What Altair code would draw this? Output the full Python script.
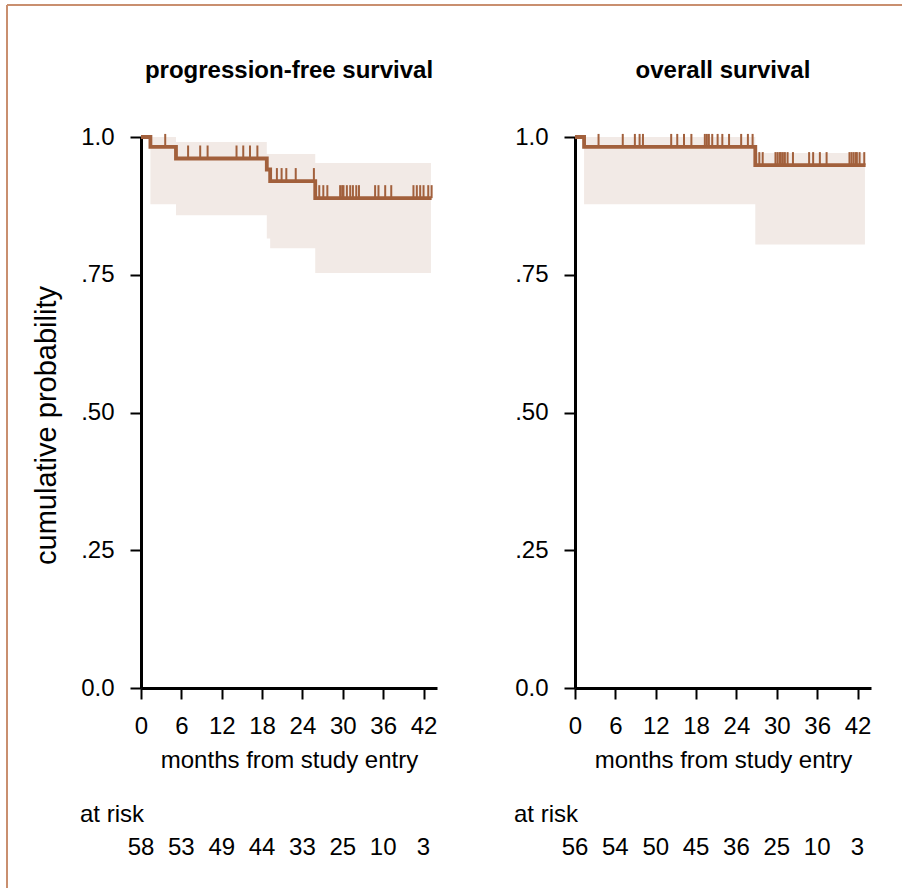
import altair as alt
import numpy as np
import pandas as pd

# ---- axis ticks -----------------------------------------------------------
month_ticks = [0, 6, 12, 18, 24, 30, 36, 42]
y_ticks = [0.0, 0.25, 0.5, 0.75, 1.0]
y_tick_labels = ["0.0", ".25", ".50", ".75", "1.0"]

# ---- progression-free survival -------------------------------------------
pfs_step_t = [0.0, 1.4, 5.2, 18.7, 19.2, 25.9, 43.2]
pfs_step_s = [1.0, 0.982, 0.961, 0.941, 0.920, 0.889, 0.889]
pfs_ci_t = [1.4, 5.2, 18.7, 19.2, 25.9, 43.1]
pfs_ci_lo = [0.878, 0.858, 0.816, 0.798, 0.753, 0.753]
pfs_ci_hi = [1.0, 0.991, 0.969, 0.969, 0.953, 0.953]
pfs_censor_t = [3.6, 7.0, 8.8, 9.9, 14.2, 15.2, 16.2, 17.3,
                20.2, 20.9, 21.6, 23.0, 25.7,
                26.5, 27.1, 27.7, 29.6, 29.9, 30.1, 30.6, 31.1, 31.5, 32.0, 32.4,
                34.8, 35.3, 36.3, 37.2, 40.5, 41.0, 41.5, 42.0, 42.7, 43.2]
pfs_at_risk = [58, 53, 49, 44, 33, 25, 10, 3]

# ---- overall survival ------------------------------------------------------
os_step_t = [0.0, 1.35, 26.8, 43.2]
os_step_s = [1.0, 0.982, 0.949, 0.949]
os_ci_t = [1.35, 26.8, 43.1]
os_ci_lo = [0.878, 0.805, 0.805]
os_ci_hi = [1.0, 0.971, 0.971]
os_censor_t = [3.5, 7.1, 8.9, 9.6, 10.1, 14.3, 15.2, 16.2, 17.3,
               19.3, 19.6, 19.9, 20.4, 21.2, 21.9, 22.9, 24.7, 25.7, 26.4,
               27.4, 27.9, 29.8, 30.1, 30.4, 30.6, 30.9, 31.2, 31.6, 32.4,
               34.8, 35.4, 36.4, 37.4, 40.8, 41.1, 41.4, 41.7, 41.9, 42.3, 43.0]
os_at_risk = [56, 54, 50, 45, 36, 25, 10, 3]

# ---- styling ---------------------------------------------------------------
SANS = "Liberation Sans, Arial, sans-serif"
CURVE = "#A2603C"
BAND = "#F2EAE6"
FRAME = "#C98F6F"
W, H = 296, 551
FS = 24


def censor_frame(step_t, step_s, censor_t):
    idx = np.searchsorted(step_t, censor_t, side="right") - 1
    return pd.DataFrame({"t": censor_t, "s": np.asarray(step_s)[idx]})


def x_axis():
    return alt.Axis(values=month_ticks, title="months from study entry",
                    grid=False, domainColor="black", domainWidth=3,
                    tickColor="black", tickWidth=2, tickSize=11,
                    labelFont=SANS, labelFontSize=FS, labelColor="black",
                    labelPadding=15, labelFlush=False,
                    titleFont=SANS, titleFontSize=FS, titleFontWeight="normal",
                    titleColor="black", titlePadding=10)


def y_axis(with_title):
    expr = " : ".join(
        f"datum.value == {v} ? '{lab}'" for v, lab in zip(y_ticks, y_tick_labels)
    ) + " : ''"
    kw = dict(values=y_ticks, labelExpr=expr, grid=False,
              domainColor="black", domainWidth=3, tickColor="black",
              tickWidth=2, tickSize=11, labelFont=SANS, labelFontSize=FS,
              labelColor="black", labelPadding=16, labelFlush=False)
    if with_title:
        kw.update(title="cumulative probability", titleFont=SANS,
                  titleFontSize=29, titleFontWeight="normal",
                  titleColor="black", titlePadding=19, titleY=288)
    else:
        kw.update(title="")
    return alt.Axis(**kw)


def panel(title, step_t, step_s, ci_t, ci_lo, ci_hi, censor_t, at_risk,
          with_title, frame=False):
    xs = alt.Scale(domain=[0, 44], nice=False, zero=False)
    ys = alt.Scale(domain=[0, 1], nice=False)

    band = alt.Chart(pd.DataFrame({"t": ci_t, "lo": ci_lo, "hi": ci_hi})).mark_area(
        interpolate="step-after", color=BAND, opacity=1
    ).encode(
        x=alt.X("t:Q", scale=xs, axis=x_axis()),
        y=alt.Y("lo:Q", scale=ys, axis=y_axis(with_title)),
        y2="hi:Q",
    )
    curve = alt.Chart(pd.DataFrame({"t": step_t, "s": step_s})).mark_line(
        interpolate="step-after", color=CURVE, strokeWidth=3.8
    ).encode(x="t:Q", y="s:Q")
    ticks = alt.Chart(censor_frame(step_t, step_s, censor_t)).mark_tick(
        orient="vertical", color=CURVE, size=13, thickness=2, yOffset=-6.5, opacity=1
    ).encode(x="t:Q", y="s:Q")
    heading = alt.Chart(pd.DataFrame({"lab": [title]})).mark_text(
        font=SANS, fontSize=24, fontWeight="bold", align="center",
        baseline="alphabetic", color="black"
    ).encode(text="lab:N", x=alt.value(W / 2), y=alt.value(-59))
    risk_label = alt.Chart(pd.DataFrame({"lab": ["at risk"]})).mark_text(
        font=SANS, fontSize=FS, align="left", baseline="alphabetic", color="black"
    ).encode(text="lab:N", x=alt.value(-61), y=alt.value(685))
    risk = alt.Chart(pd.DataFrame({"m": month_ticks, "n": at_risk})).mark_text(
        font=SANS, fontSize=FS, align="center", baseline="alphabetic", color="black"
    ).encode(x="m:Q", y=alt.value(718), text="n:Q")

    layers = [band, curve, ticks, heading, risk_label, risk]
    if frame:
        one = pd.DataFrame({"k": [0]})
        top = alt.Chart(one).mark_rule(color=FRAME, strokeWidth=2).encode(
            x=alt.value(-134), x2=alt.value(761), y=alt.value(-132))
        left = alt.Chart(one).mark_rule(color=FRAME, strokeWidth=2).encode(
            x=alt.value(-134), y=alt.value(-132), y2=alt.value(751))
        layers += [top, left]

    return alt.layer(*layers).properties(width=W, height=H)


left_panel = panel("progression-free survival", pfs_step_t, pfs_step_s,
                   pfs_ci_t, pfs_ci_lo, pfs_ci_hi, pfs_censor_t, pfs_at_risk,
                   with_title=True, frame=True)
right_panel = panel("overall survival", os_step_t, os_step_s,
                    os_ci_t, os_ci_lo, os_ci_hi, os_censor_t, os_at_risk,
                    with_title=False)

chart = alt.hconcat(left_panel, right_panel, spacing=138, bounds="flush").properties(
    padding={"left": 6, "top": 4, "right": 0, "bottom": 0},
    background="white",
).configure_view(stroke="transparent", strokeWidth=0)

chart.save("out.html", embed_options={"renderer": "svg", "actions": False})
